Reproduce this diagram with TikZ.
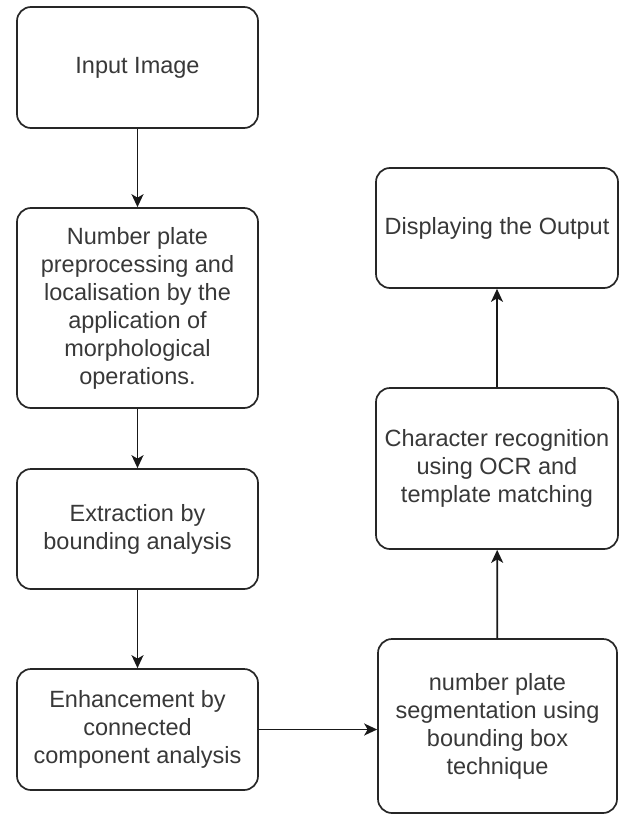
\documentclass[tikz,border=0pt]{standalone}
\usepackage{fontspec}
\setmainfont{Liberation Sans}
\usetikzlibrary{arrows.meta}
\begin{document}
\begin{tikzpicture}[x=1pt,y=-1pt,
  box/.style={draw=black!85, line width=1.7pt, rounded corners=14pt, align=center,
    font=\fontsize{23.5}{28}\selectfont, text=black!78, inner sep=0pt},
  conn/.style={draw=black!90, line width=1.7pt, -{Stealth[length=13pt,width=12pt,inset=3.5pt]}}]
\path[use as bounding box] (0,0) rectangle (623,816);
\node[box, minimum width=241pt, minimum height=121pt] (b1) at (137.5,67.5) {Input Image};
\node[box, minimum width=241pt, minimum height=200pt] (b2) at (137.5,308) {Number plate\\preprocessing and\\localisation by the\\application of\\morphological\\operations.};
\node[box, minimum width=241pt, minimum height=120pt] (b3) at (137.5,529) {Extraction by\\bounding analysis};
\node[box, minimum width=241pt, minimum height=121pt] (b4) at (137.5,729.5) {Enhancement by\\connected\\component analysis};
\node[box, minimum width=239pt, minimum height=174pt] (b5) at (497.5,726) {number plate\\segmentation using\\bounding box\\technique};
\node[box, minimum width=242pt, minimum height=161pt] (b6) at (497,468.5) {Character recognition\\using OCR and\\template matching};
\node[box, minimum width=242pt, minimum height=120pt] (b7) at (497,228) {Displaying the Output};
\draw[conn] (b1) -- (b2);
\draw[conn] (b2) -- (b3);
\draw[conn] (b3) -- (b4);
\draw[conn] (b4.east) -- (b4.east -| b5.west);
\draw[conn] (b5) -- (b6);
\draw[conn] (b6) -- (b7);
\end{tikzpicture}
\end{document}
